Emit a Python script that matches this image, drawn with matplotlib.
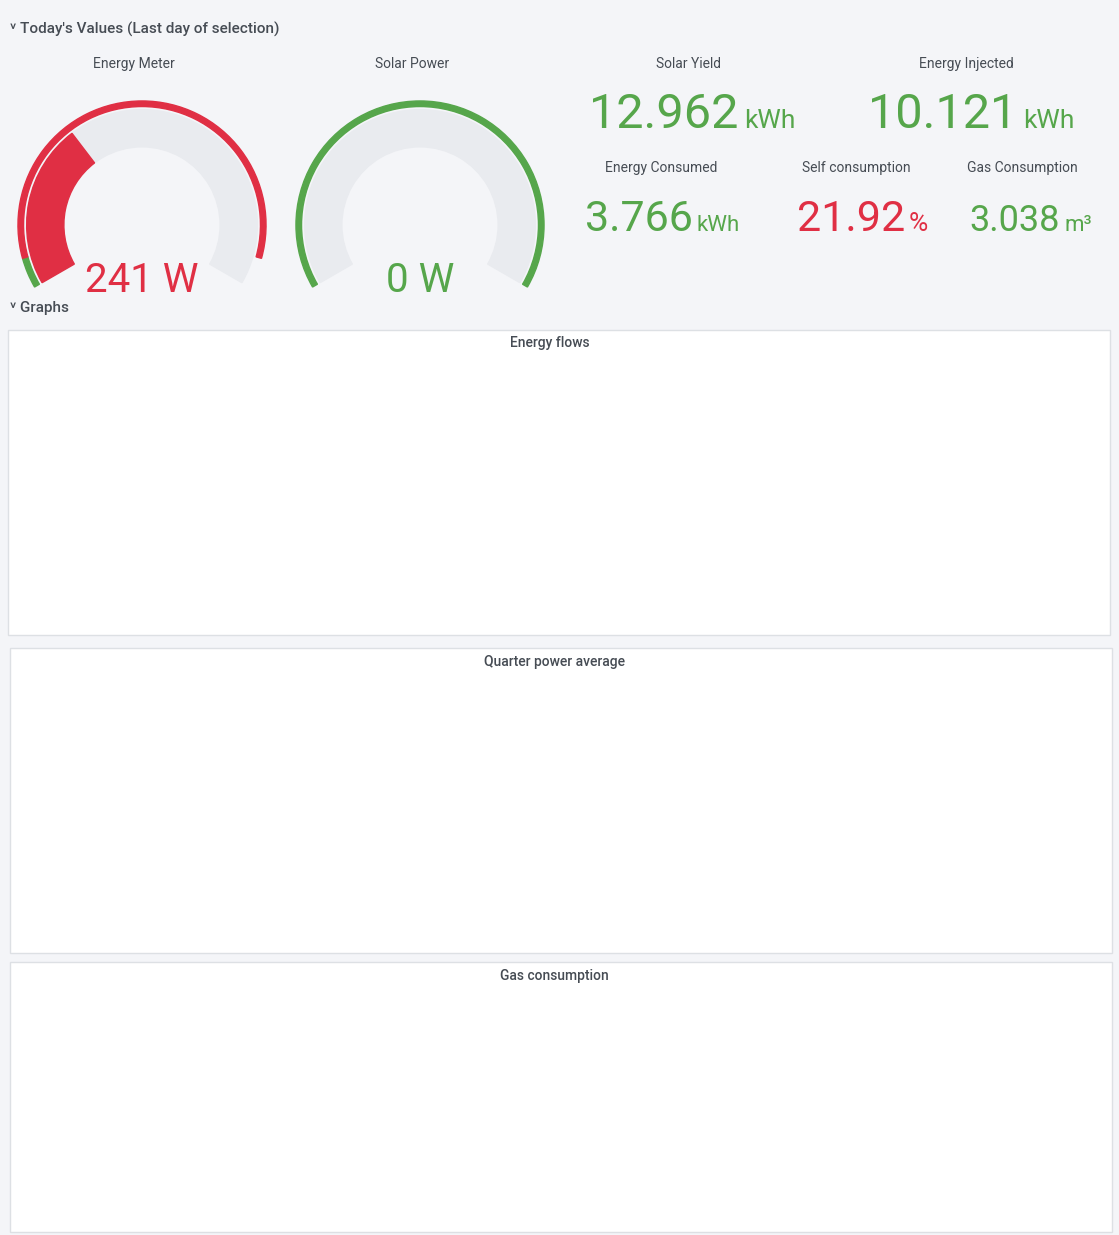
import numpy as np
import matplotlib.pyplot as plt
from matplotlib.patches import Wedge, Rectangle
from matplotlib.lines import Line2D

plt.rcParams['font.family'] = ['Roboto', 'DejaVu Sans']

W, H = 1119, 1235
BG = '#f4f5f8'
TXT = '#464c54'
GREEN = '#56a64b'
RED = '#e02f44'
BAR_GREEN = '#7eb26d'
BAR_YELLOW = '#eab839'
BAR_CYAN = '#6ed0e0'
ORANGE = '#ef843c'

# --- data ---
meter_value, meter_max = 241, 700
solar_value, solar_max = 0, 3000

stats_top = [("Solar Yield", "12.962", "kWh"), ("Energy Injected", "10.121", "kWh")]
stats_bottom = [("Energy Consumed", "3.766", "kWh", GREEN),
                ("Self consumption", "21.92", "%", RED),
                ("Gas Consumption", "3.038", "m³", GREEN)]

# 15-minute samples from 00:00
consumption = [180, 150, 200, 140, 160, 190, 140, 170, 150,
               180, 140, 200, 160, 150, 220, 150, 180,
               170, 200, 160, 250, 180, 220, 190, 240,
               200, 260, 210, 230, 200, 270, 220, 250,
               300, 500, 1300, 300, 250, 850, 300, 450,
               330, 300, 380, 300, 820, 300, 1300, 280,
               350, 1300, 300, 280, 400, 300, 850, 300,
               350, 300, 900, 350, 400, 2550, 350, 700,
               650, 600, 700, 650, 900, 1400, 800, 650,
               300, 450, 300, 900, 300, 250, 280, 800,
               250, 350, 250, 280, 260, 300, 250, 320,
               270, 300, 280, 0, 0, 0, 0, 0]
solar = [0, 0, 0, 0, 0, 0, 0, 0, 0, 0, 0, 0, 0, 0, 0, 0,
         0, 0, 0, 0, 0, 0, 0, 0, 0, 0, 0, 0, 0, 0, 0,
         20, 100, 200, 350, 550, 500, 450, 650, 1100, 1300, 1400, 1550,
         1700, 1850, 2000, 2100, 1600, 2250, 2300, 2300, 2300, 2320, 1000,
         2400, 2250, 2150, 2050, 1950, 1800, 1650, 1450, 1200, 1150, 900,
         800, 600, 450, 350, 300, 250, 100, 30,
         0, 0, 0, 0, 0, 0, 0, 0, 0, 0, 0, 0, 0, 0, 0, 0,
         0, 0, 0, 0, 0, 0, 0, 0]

quarter_pos = [140, 195, 140, 140, 170, 170, 110, 130, 205, 130, 130, 155, 165, 130, 140,
               190, 130, 205, 245, 235, 195, 205, 285, 200, 195,
               215, 230, 205, 205, 280, 205, 200, 210, 110, 60, 215, 30, 20, 50, 0,
               0, 0, 0, 0, 0, 0, 0, 0, 0, 0, 0, 0, 0, 0, 0, 0, 0, 0, 0, 0, 0, 0, 0,
               30, 290, 25, 185, 350, 430, 420, 670, 740, 620, 490, 220, 410, 270,
               270, 340, 230, 220, 320, 320, 260, 310, 330, 240, 210, 300, 270, 250]
quarter_neg = [0] * 34 + [-50, -170, -190, -300, -150, -110, -720, -1120, -1270, -1400,
                          -1560, -1730, -1730, -1940, -1680, -1580, -1890, -2110, -1910,
                          -2040, -1740, -1830, -1870, -1900, -1810, -1620, -1590, -1450,
                          -1060, -510, -810, -500, -190] + [0] * 24
offpeak_before = 25   # first quarters measured at off-peak rate
offpeak_after = 85

gas_hours = list(range(24))
gas = [0.001, 0.002, 0.002, 0.001, 0.435, 0.445, 0.515, 0.355, 0.29, 0.505, 0.105, 0.015,
       0.05, 0.29, 0.01, 0.003, 0.002, 0.002, 0.002, 0.002, 0.003, 0.002, 0.002, 0.001]

hour_ticks = list(range(1, 24, 2))
hour_labels = [f"{h:02d}:00" for h in hour_ticks]

fig = plt.figure(figsize=(W / 100, H / 100), dpi=100)
fig.patch.set_facecolor(BG)


def px(x, y, w, h):
    return [x / W, 1 - (y + h) / H, w / W, h / H]


def ftext(x, y, s, **kw):
    fig.text(x / W, 1 - y / H, s, **kw)


def panel(x, y, w, h):
    fig.patches.append(Rectangle((x / W, 1 - (y + h) / H), w / W, h / H, transform=fig.transFigure,
                                 facecolor='white', edgecolor='#dde0e4', lw=1, zorder=0))


def gauge(cx, cy, r, value, vmax, color, thresholds, label):
    ax = fig.add_axes(px(cx - r - 5, cy - r - 5, 2 * r + 10, 2 * r + 10))
    ax.set_xlim(-1.04, 1.04)
    ax.set_ylim(-1.04, 1.04)
    ax.set_aspect('equal')
    ax.axis('off')
    start, sweep = 210, 240
    # threshold ring
    a = start
    for frac, col in thresholds:
        a2 = start - sweep * frac
        ax.add_patch(Wedge((0, 0), 1.0, a2, a, width=0.045, color=col))
        a = a2
    ax.add_patch(Wedge((0, 0), 0.93, start - sweep, start, width=0.3, color='#e9ebef'))
    frac = min(value / vmax, 1)
    if frac > 0:
        ax.add_patch(Wedge((0, 0), 0.93, start - sweep * frac, start, width=0.3, color=color))
    ax.text(0, -0.45, label, ha='center', va='center', fontsize=29, color=color)


# header
ftext(10, 29, "˅ Today's Values (Last day of selection)", fontsize=11, color=TXT, va='center', weight='medium')
ftext(10, 308, "˅ Graphs", fontsize=11, color=TXT, va='center', weight='medium')

ftext(134, 64, "Energy Meter", fontsize=10, color=TXT, ha='center', va='center')
ftext(412, 64, "Solar Power", fontsize=10, color=TXT, ha='center', va='center')
gauge(142, 225, 124, meter_value, meter_max, RED, [(0.06, GREEN), (0.94, RED)], f"{meter_value} W")
gauge(420, 225, 124, solar_value, solar_max, GREEN, [(1.0, GREEN)], f"{solar_value} W")

for (title, num, unit), cx, split in zip(stats_top, [689, 966], [738, 1017]):
    ftext(cx, 64, title, fontsize=10, color=TXT, ha='center', va='center')
    ftext(split, 128, num, fontsize=35, color=GREEN, ha='right', va='baseline')
    ftext(split + 6, 128, unit, fontsize=19, color=GREEN, ha='left', va='baseline')

for (title, num, unit, col), cx, split, fs in zip(stats_bottom, [661, 856, 1022], [693, 905, 1060], [31, 31, 26]):
    ftext(cx, 168, title, fontsize=10, color=TXT, ha='center', va='center')
    ftext(split, 231, num, fontsize=fs, color=col, ha='right', va='baseline')
    ftext(split + 4, 231, unit, fontsize=16 if unit != '%' else 19, color=col, ha='left', va='baseline')


def style(ax):
    ax.set_facecolor('none')
    for s in ax.spines.values():
        s.set_visible(False)
    ax.grid(True, color='#e6e7ea', lw=0.8)
    ax.set_axisbelow(True)
    ax.tick_params(length=0, labelsize=8, colors=TXT, pad=6)
    ax.set_xlim(0, 24)
    ax.set_xticks(hour_ticks)
    ax.set_xticklabels(hour_labels)


def legend(ax, items, y):
    handles = [Line2D([], [], color=c, lw=1.5) for _, c in items]
    ax.legend(handles, [n for n, _ in items], loc='upper left', bbox_to_anchor=(-0.035, y), ncol=len(items),
              frameon=False, fontsize=8, labelcolor=TXT, handlelength=0.8, handletextpad=0.6, columnspacing=1.2)


# Energy flows
panel(8, 330, 1102, 305)
ftext(550, 343, "Energy flows", fontsize=10, color=TXT, ha='center', va='center', weight='medium')
ax1 = fig.add_axes(px(57, 371, 1030, 211))
style(ax1)
t = np.arange(len(consumption)) * 0.25
cons = np.array(consumption, float)
sol = np.array(solar, float)
grid = cons - sol
ax1.fill_between(t, 0, sol, color=BAR_GREEN, alpha=0.12, lw=0)
ax1.fill_between(t, 0, grid, where=grid < 0, color=BAR_YELLOW, alpha=0.12, lw=0, interpolate=True)
ax1.plot(t, sol, color=BAR_GREEN, lw=1)
ax1.plot(t, grid, color=BAR_YELLOW, lw=1)
ax1.plot(t, cons, color=BAR_CYAN, lw=1)
ax1.set_ylim(-3000, 3000)
ax1.set_yticks(range(-3000, 3001, 1000))
ax1.set_yticklabels([f"{v // 1000} K" if v else "0" for v in range(-3000, 3001, 1000)])
ax1.set_ylabel("Power (W)", fontsize=8, color=TXT)
legend(ax1, [("Solar", BAR_GREEN), ("Grid", BAR_YELLOW), ("Consumption", BAR_CYAN)], -0.1)

# Quarter power average
panel(10, 648, 1102, 305)
ftext(554, 662, "Quarter power average", fontsize=10, color=TXT, ha='center', va='center', weight='medium')
ax2 = fig.add_axes(px(52, 690, 1038, 211))
style(ax2)
tq = np.arange(len(quarter_pos)) * 0.25
pcol = [BAR_CYAN if (i < offpeak_before or i >= offpeak_after) else BAR_GREEN for i in range(len(quarter_pos))]
ax2.bar(tq, quarter_pos, width=0.19, color=pcol)
ax2.bar(tq, quarter_neg, width=0.19, color=BAR_YELLOW)
ax2.set_ylim(-2500, 1000)
yt = list(range(-2500, 1001, 500))
ax2.set_yticks(yt)
ax2.set_yticklabels([f"{v / 1000:.1f} K" if abs(v) >= 1000 else str(v) for v in yt])
legend(ax2, [("Energy_Meter.Peak consumed", BAR_GREEN), ("Energy_Meter.Peak Injection", BAR_YELLOW),
             ("Energy_Meter.Off-peak consumed", BAR_CYAN), ("Energy_Meter.Off-peak injection", ORANGE)], -0.1)

# Gas consumption
panel(10, 962, 1102, 270)
ftext(554, 976, "Gas consumption", fontsize=10, color=TXT, ha='center', va='center', weight='medium')
ax3 = fig.add_axes(px(55, 1004, 1035, 176))
style(ax3)
ax3.bar(gas_hours, gas, width=0.68, color=BAR_GREEN)
ax3.set_ylim(0, 0.6)
gt = [0, 0.1, 0.2, 0.3, 0.4, 0.5, 0.6]
ax3.set_yticks(gt)
ax3.set_yticklabels(["0 m³"] + [f"{v:.1f} m³" for v in gt[1:]])
legend(ax3, [("Gas_Meter.Consumption", BAR_GREEN)], -0.13)

fig.savefig("out.png", dpi=100, facecolor=BG)
